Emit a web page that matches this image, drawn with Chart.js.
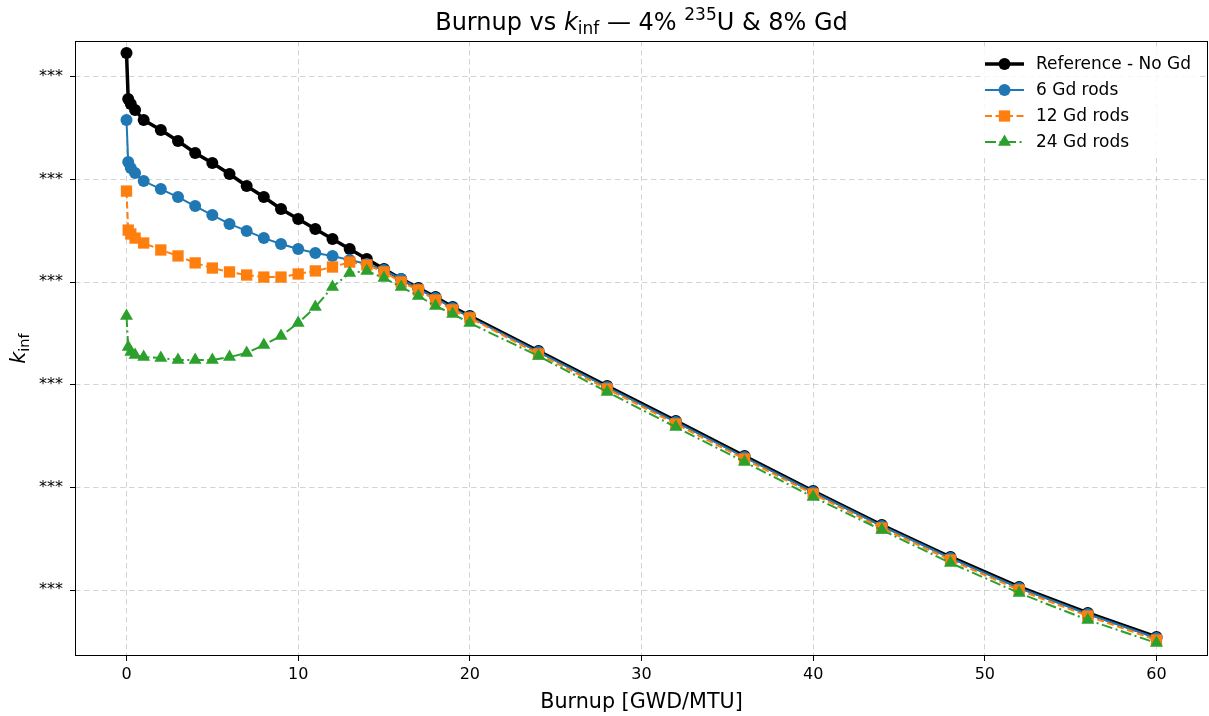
<!DOCTYPE html>
<html>
<head>
<meta charset="utf-8">
<script src="https://cdn.jsdelivr.net/npm/chart.js@4.4.1/dist/chart.umd.min.js"></script>
<style>
  html, body { margin: 0; padding: 0; background: #fff; }
  #wrap { width: 1209px; height: 716px; }
</style>
</head>
<body>
<div id="wrap"><canvas id="graph"></canvas></div>
<script>
// burnup steps [GWD/MTU]
const burnup = [0, 0.1, 0.25, 0.5, 1, 2, 3, 4, 5, 6, 7, 8, 9, 10, 11, 12, 13, 14, 15, 16, 17, 18, 19, 20,
    24, 28, 32, 36, 40, 44, 48, 52, 56, 60];

// k_inf per case
const kRef = [1.3617, 1.3393, 1.3368, 1.3339, 1.3290, 1.3242, 1.3188, 1.3130, 1.3081, 1.3027, 1.2969, 1.2915,
    1.2857, 1.2808, 1.2759, 1.2711, 1.2662, 1.2613, 1.2564, 1.2516, 1.2472, 1.2428, 1.2379, 1.2335,
    1.2165, 1.1994, 1.1824, 1.1653, 1.1482, 1.1317, 1.1161, 1.1015, 1.0888, 1.0771];
const kGd6 = [1.3290, 1.3086, 1.3057, 1.3032, 1.2993, 1.2954, 1.2915, 1.2871, 1.2827, 1.2784, 1.2750, 1.2715,
    1.2686, 1.2662, 1.2642, 1.2628, 1.2608, 1.2589, 1.2559, 1.2516, 1.2467, 1.2423, 1.2374, 1.2330,
    1.2160, 1.1989, 1.1819, 1.1648, 1.1478, 1.1312, 1.1156, 1.1010, 1.0883, 1.0766];
const kGd12 = [1.2944, 1.2754, 1.2735, 1.2715, 1.2691, 1.2657, 1.2628, 1.2594, 1.2569, 1.2550, 1.2535, 1.2525,
    1.2525, 1.2540, 1.2555, 1.2574, 1.2598, 1.2584, 1.2550, 1.2501, 1.2462, 1.2413, 1.2365, 1.2326,
    1.2150, 1.1980, 1.1809, 1.1638, 1.1468, 1.1302, 1.1146, 1.1000, 1.0873, 1.0756];
const kGd24 = [1.2335, 1.2184, 1.2160, 1.2145, 1.2135, 1.2131, 1.2121, 1.2121, 1.2121, 1.2135, 1.2155, 1.2194,
    1.2238, 1.2301, 1.2379, 1.2477, 1.2545, 1.2555, 1.2520, 1.2477, 1.2433, 1.2384, 1.2345, 1.2301,
    1.2140, 1.1965, 1.1794, 1.1624, 1.1453, 1.1292, 1.1132, 1.0985, 1.0854, 1.0742];

const seriesNames = ['Reference - No Gd', '6 Gd rods', '12 Gd rods', '24 Gd rods'];
const xTicks = [0, 10, 20, 30, 40, 50, 60];
const yTicks = [1.10, 1.15, 1.20, 1.25, 1.30, 1.35];
const yTickText = '***';

const FONT = "'DejaVu Sans', sans-serif";

function pts(ys) {
    return burnup.map((x, i) => ({ x: x, y: ys[i] }));
}

// draws a row of text pieces (normal / italic / sub / sup) centred on cx
function drawPieces(ctx, pieces, cx, y) {
    let total = 0;
    pieces.forEach(p => {
        ctx.font = p.font;
        p.w = ctx.measureText(p.t).width;
        total += p.w;
    });
    let x = cx - total / 2;
    ctx.textAlign = 'left';
    ctx.textBaseline = 'alphabetic';
    pieces.forEach(p => {
        ctx.font = p.font;
        ctx.fillText(p.t, x, y + (p.dy || 0));
        x += p.w;
    });
}

function marker(ctx, style, x, y, r, color) {
    ctx.save();
    ctx.fillStyle = color;
    ctx.beginPath();
    if (style === 'circle') {
        ctx.arc(x, y, r, 0, Math.PI * 2);
    } else if (style === 'rect') {
        const s = r * Math.SQRT1_2;
        ctx.rect(x - s, y - s, 2 * s, 2 * s);
    } else {
        ctx.moveTo(x, y - r);
        ctx.lineTo(x + r * 0.866, y + r * 0.5);
        ctx.lineTo(x - r * 0.866, y + r * 0.5);
        ctx.closePath();
    }
    ctx.fill();
    ctx.restore();
}

const decorations = {
    id: 'decorations',
    afterDatasetsDraw(chart) {
        const ctx = chart.ctx;
        const a = chart.chartArea;
        ctx.save();

        // frame
        ctx.strokeStyle = '#000';
        ctx.lineWidth = 1;
        ctx.setLineDash([]);
        ctx.strokeRect(a.left + 0.5, a.top + 0.5, a.right - a.left - 1, a.bottom - a.top - 1);

        // legend (white, no visible edge)
        ctx.fillStyle = 'rgba(255,255,255,0.85)';
        ctx.fillRect(984, 49, 216, 107);
        chart.data.datasets.forEach((ds, i) => {
            const y = 64 + i * 26;
            ctx.strokeStyle = ds.borderColor;
            ctx.lineWidth = ds.borderWidth;
            ctx.setLineDash(ds.borderDash || []);
            ctx.beginPath();
            ctx.moveTo(985, y);
            ctx.lineTo(1024, y);
            ctx.stroke();
            ctx.setLineDash([]);
            marker(ctx, ds.pointStyle, 1004.5, y, ds.pointRadius, ds.borderColor);
            ctx.fillStyle = '#000';
            ctx.font = '17px ' + FONT;
            ctx.textAlign = 'left';
            ctx.textBaseline = 'middle';
            ctx.fillText(seriesNames[i], 1036, y + 1);
        });

        // title
        ctx.fillStyle = '#000';
        drawPieces(ctx, [
            { t: 'Burnup vs ', font: '24px ' + FONT },
            { t: 'k', font: 'italic 24px ' + FONT },
            { t: 'inf', font: '17px ' + FONT, dy: 4 },
            { t: ' \u2014 4% ', font: '24px ' + FONT },
            { t: '235', font: '17px ' + FONT, dy: -10 },
            { t: 'U & 8% Gd', font: '24px ' + FONT }
        ], (a.left + a.right) / 2, 30);

        // x axis label
        drawPieces(ctx, [{ t: 'Burnup [GWD/MTU]', font: '20.7px ' + FONT }], (a.left + a.right) / 2, 708);

        // y axis label
        ctx.translate(25, (a.top + a.bottom) / 2);
        ctx.rotate(-Math.PI / 2);
        drawPieces(ctx, [
            { t: 'k', font: 'italic 20.7px ' + FONT },
            { t: 'inf', font: '14.5px ' + FONT, dy: 4 }
        ], 0, 0);
        ctx.restore();
    }
};

const gridStyle = {
    color: 'rgba(176,176,176,0.55)',
    lineWidth: 1,
    tickLength: 5,
    tickColor: '#000',
    tickWidth: 1,
    tickBorderDash: []
};

const ctx = document.getElementById('graph').getContext('2d');
const myChart = new Chart(ctx, {
    type: 'line',
    data: {
        datasets: [{
            label: seriesNames[0],
            data: pts(kRef),
            borderColor: '#000000',
            backgroundColor: '#000000',
            borderWidth: 3.5,
            pointStyle: 'circle',
            pointRadius: 6,
            pointBorderWidth: 0,
            order: 3
        }, {
            label: seriesNames[1],
            data: pts(kGd6),
            borderColor: '#1f77b4',
            backgroundColor: '#1f77b4',
            borderWidth: 2,
            pointStyle: 'circle',
            pointRadius: 6,
            pointBorderWidth: 0,
            order: 2
        }, {
            label: seriesNames[2],
            data: pts(kGd12),
            borderColor: '#ff7f0e',
            backgroundColor: '#ff7f0e',
            borderWidth: 2,
            borderDash: [7, 3.5],
            pointStyle: 'rect',
            pointRadius: 8,
            pointBorderWidth: 0,
            order: 1
        }, {
            label: seriesNames[3],
            data: pts(kGd24),
            borderColor: '#2ca02c',
            backgroundColor: '#2ca02c',
            borderWidth: 2,
            borderDash: [11, 3.5, 2, 3.5],
            pointStyle: 'triangle',
            pointRadius: 7.5,
            pointBorderWidth: 0,
            order: 0
        }]
    },
    options: {
        responsive: true,
        maintainAspectRatio: false,
        animation: false,
        layout: { autoPadding: false, padding: { top: 41, right: 1, left: 0, bottom: 0 } },
        elements: { line: { tension: 0, fill: false } },
        plugins: {
            legend: { display: false },
            title: { display: false },
            tooltip: { enabled: false }
        },
        scales: {
            x: {
                type: 'linear',
                min: -3,
                max: 63,
                afterBuildTicks: s => { s.ticks = xTicks.map(v => ({ value: v })); },
                afterFit: s => { s.height = 60; },
                grid: gridStyle,
                border: { display: false, dash: [5.5, 3.5] },
                ticks: {
                    color: '#000',
                    padding: 4,
                    maxRotation: 0,
                    font: { family: FONT, size: 16 }
                }
            },
            y: {
                type: 'linear',
                min: 1.06784,
                max: 1.36754,
                afterBuildTicks: s => { s.ticks = yTicks.map(v => ({ value: v })); },
                afterFit: s => { s.width = 75; },
                grid: gridStyle,
                border: { display: false, dash: [5.5, 3.5] },
                ticks: {
                    color: '#000',
                    padding: 7,
                    font: { family: FONT, size: 16 },
                    callback: () => yTickText
                }
            }
        }
    },
    plugins: [decorations]
});
</script>
</body>
</html>
